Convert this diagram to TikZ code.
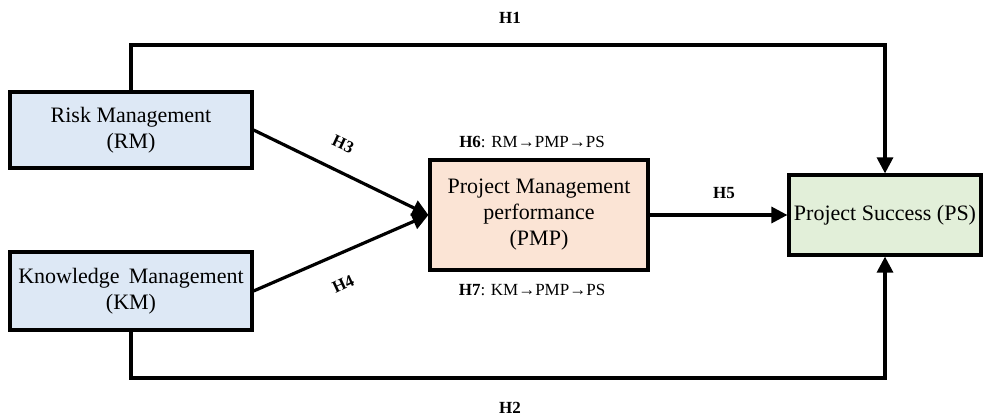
\documentclass[tikz,border=0pt]{standalone}
\usepackage{fontspec}
\setmainfont{Liberation Serif}
\usepackage{xcolor}
\usepackage{tikz}
\usetikzlibrary{arrows.meta}

\definecolor{rmblue}{RGB}{221,232,245}
\definecolor{pmpskin}{RGB}{251,228,213}
\definecolor{psgreen}{RGB}{226,239,217}

\begin{document}
\begin{tikzpicture}[x=0.5pt,y=0.5pt,
	varbox/.style={draw=black,line width=1.6pt,align=center,inner sep=0pt,font=\fontsize{11}{13}\selectfont},
	conn/.style={line width=1.6pt,-{Triangle[length=8pt,width=8pt]}},
	hyp/.style={font=\fontsize{8.5}{10}\selectfont\bfseries}]
	\useasboundingbox (0,0) rectangle (984,418);

	\node[varbox,fill=rmblue,minimum width=121pt,minimum height=38pt] (RM) at (131,288) {Risk Management\\(RM)};
	\node[varbox,fill=rmblue,minimum width=121pt,minimum height=39pt] (KM) at (131,127) {Knowledge\, Management\\(KM)};
	\node[varbox,fill=pmpskin,minimum width=109pt,minimum height=55pt] (PMP) at (539,203) {Project Management\\performance\\(PMP)};
	\node[varbox,fill=psgreen,minimum width=96pt,minimum height=40pt] (PS) at (885,203) {Project Success (PS)};

	\coordinate (topline) at (0,373);
	\coordinate (botline) at (0,40);

	\draw[conn] (RM.north) -- (RM.north |- topline) -| (PS.north);
	\draw[conn] (KM.south) -- (KM.south |- botline) -| (PS.south);
	\draw[conn] (RM.east) -- (PMP.west);
	\draw[conn] (KM.east) -- (PMP.west);
	\draw[conn] (PMP.east) -- (PS.west);

	\node[hyp] (H1) at (510,400) {H1};
	\node[hyp] (H2) at (510,10) {H2};
	\node[hyp,rotate=-25] (H3) at (343,274) {H3};
	\node[hyp,rotate=25] (H4) at (343,134) {H4};
	\node[hyp] (H5) at (724,225) {H5};
	\node[font=\fontsize{8.5}{10}\selectfont] (H6) at (532,276) {\textbf{H6}: RM→PMP→PS};
	\node[font=\fontsize{8.5}{10}\selectfont] (H7) at (532,128) {\textbf{H7}: KM→PMP→PS};
\end{tikzpicture}
\end{document}
